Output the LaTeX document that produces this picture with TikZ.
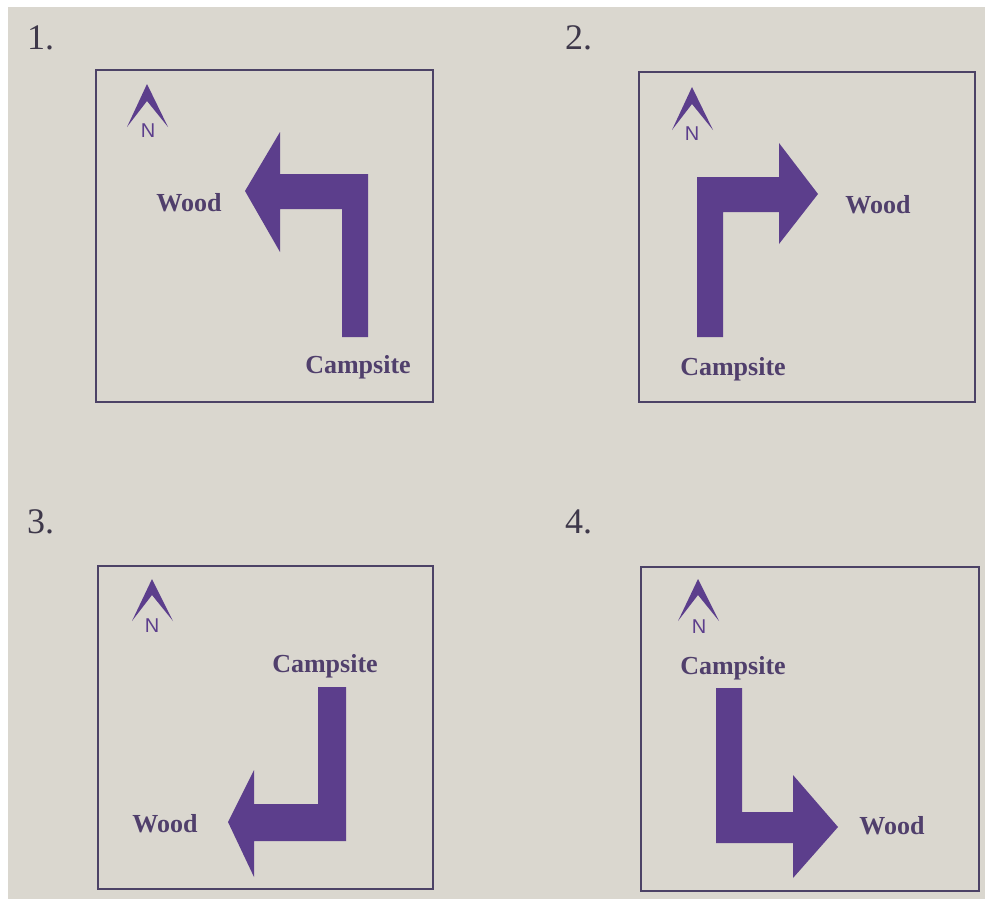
\documentclass[tikz,border=0pt]{standalone}
\usepackage{fontspec}
\setmainfont{Liberation Serif}
\newfontfamily\nfont{Liberation Sans}
\definecolor{paper}{RGB}{218,215,207}
\definecolor{arrowpurple}{RGB}{92,62,140}
\definecolor{textpurple}{RGB}{80,63,108}
\definecolor{linepurple}{RGB}{76,66,102}
\definecolor{numgray}{RGB}{62,56,74}

\begin{document}
\begin{tikzpicture}[
    x=1pt,y=-1pt,
    frame/.style={draw=linepurple,line width=1.6pt},
    turnarrow/.style={fill=arrowpurple},
    place/.style={font=\fontsize{26}{28}\selectfont\bfseries,text=textpurple,inner sep=0pt,anchor=base},
    numlabel/.style={font=\fontsize{36}{38}\selectfont,text=numgray,inner sep=0pt,anchor=base west},
    northsign/.style={fill=arrowpurple},
    northletter/.style={font=\nfont\fontsize{20}{22}\selectfont,text=arrowpurple,inner sep=0pt}
]
    \useasboundingbox (0,0) rectangle (985,899);
    \fill[white] (0,0) rectangle (985,899);
    \fill[paper] (8,7) rectangle (985,899);

    % Numbers
    \node[numlabel] (n1) at (27,50) {1.};
    \node[numlabel] (n2) at (565,50) {2.};
    \node[numlabel] (n3) at (27,533) {3.};
    \node[numlabel] (n4) at (565,533) {4.};

    % Frames
    \draw[frame] (96,70) rectangle (433,402);
    \draw[frame] (639,72) rectangle (975,402);
    \draw[frame] (98,566) rectangle (433,889);
    \draw[frame] (641,567) rectangle (979,891);

    % North signs
    \fill[northsign] (147,84) -- ++(21,43) -- ++(-21,-26) -- ++(-20,26) -- cycle;
    \fill[northsign] (692,87) -- ++(21,43) -- ++(-21,-26) -- ++(-20,26) -- cycle;
    \fill[northsign] (152,579) -- ++(21,42) -- ++(-21,-26) -- ++(-20,26) -- cycle;
    \fill[northsign] (698,579) -- ++(21,42) -- ++(-21,-26) -- ++(-20,26) -- cycle;
    \node[northletter] (north1) at (148,131) {N};
    \node[northletter] (north2) at (692,134) {N};
    \node[northletter] (north3) at (152,626) {N};
    \node[northletter] (north4) at (699,627) {N};

    % Arrows
    \fill[turnarrow] (342,337) -- (368,337) -- (368,174) -- (280,174) -- (280,132) -- (245,191)
        -- (280,252) -- (280,209) -- (342,209) -- cycle;
    \fill[turnarrow] (697,337) -- (697,177) -- (779,177) -- (779,143) -- (818,194)
        -- (779,244) -- (779,212) -- (723,212) -- (723,337) -- cycle;
    \fill[turnarrow] (318,687) -- (346,687) -- (346,841) -- (254,841) -- (254,877) -- (228,822)
        -- (254,770) -- (254,804) -- (318,804) -- cycle;
    \fill[turnarrow] (716,688) -- (742,688) -- (742,812) -- (793,812) -- (793,775) -- (838,827)
        -- (793,878) -- (793,843) -- (716,843) -- cycle;

    % Places
    \node[place] (wood1) at (189,211) {Wood};
    \node[place] (camp1) at (358,373) {Campsite};
    \node[place] (wood2) at (878,213) {Wood};
    \node[place] (camp2) at (733,375) {Campsite};
    \node[place] (camp3) at (325,672) {Campsite};
    \node[place] (wood3) at (165,832) {Wood};
    \node[place] (camp4) at (733,674) {Campsite};
    \node[place] (wood4) at (892,834) {Wood};
\end{tikzpicture}
\end{document}
